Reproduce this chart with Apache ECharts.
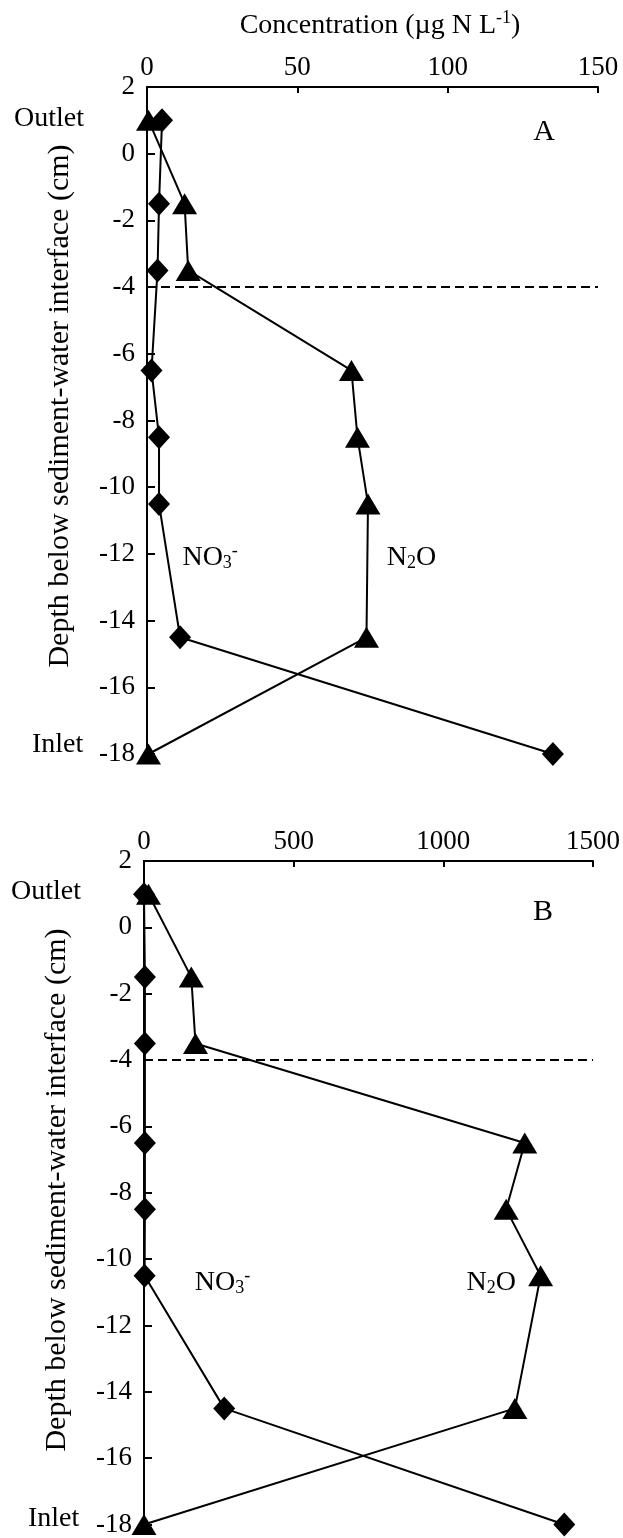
<!DOCTYPE html>
<html>
<head>
<meta charset="utf-8">
<script src="https://cdn.jsdelivr.net/npm/echarts@6/dist/echarts.min.js"></script>
<style>
  html, body { margin: 0; padding: 0; background: #fff; }
  #main { width: 623px; height: 1538px; }
</style>
</head>
<body>
<div id="main"></div>
<script>
// sampling depths (cm), outlet at top, inlet at the bottom
var depths = [1, -1.5, -3.5, -6.5, -8.5, -10.5, -14.5, -18];
// panel A concentrations (ug N/L)
var no3A = [5, 4, 3.5, 1.5, 4, 4, 11, 135];
var n2oA = [0.5, 12.5, 13.7, 68, 70, 73.5, 73, 0.5];
// panel B concentrations (ug N/L)
var no3B = [0, 3, 3, 3, 3, 2, 268, 1404];
var n2oB = [15, 158, 172, 1272, 1210, 1325, 1239, 0];
// axis ticks
var xTicksA = [0, 50, 100, 150];
var xTicksB = [0, 500, 1000, 1500];
var yTicks = [2, 0, -2, -4, -6, -8, -10, -12, -14, -16, -18];
var interfaceDepth = -4;

var serif = "'Liberation Serif', 'DejaVu Serif', serif";
var chart = echarts.init(document.getElementById('main'));

function pairs(xs) {
  return xs.map(function (v, i) { return [v, depths[i]]; });
}

function xAxisFor(ticks, idx) {
  return {
    type: 'value', gridIndex: idx, position: 'top',
    min: ticks[0], max: ticks[ticks.length - 1], interval: ticks[1] - ticks[0],
    axisLine: { show: true, onZero: false, lineStyle: { color: '#000', width: 2 } },
    axisTick: { show: true, inside: true, length: 6, lineStyle: { color: '#000', width: 2 } },
    axisLabel: { color: '#000', fontFamily: serif, fontSize: 27, margin: 6,
      formatter: function (v) { return String(v); } },
    splitLine: { show: false }
  };
}

function yAxisFor(idx) {
  return {
    type: 'value', gridIndex: idx,
    min: yTicks[yTicks.length - 1], max: yTicks[0], interval: 2,
    axisLine: { show: true, onZero: false, lineStyle: { color: '#000', width: 2 } },
    axisTick: { show: true, inside: true, length: 8, lineStyle: { color: '#000', width: 2 } },
    axisLabel: { color: '#000', fontFamily: serif, fontSize: 27, margin: 12,
      formatter: function (v) { return String(v); } },
    splitLine: { show: false }
  };
}

var labelRich = {
  base: { fontFamily: serif, fontSize: 28, color: '#000', lineHeight: 34, verticalAlign: 'middle' },
  sub: { fontFamily: serif, fontSize: 18, color: '#000', lineHeight: 34, verticalAlign: 'bottom', padding: [0, 0, 2, 0] },
  sup: { fontFamily: serif, fontSize: 18, color: '#000', lineHeight: 34, verticalAlign: 'top', padding: [2, 0, 0, 0] }
};

function textPoint(coord, fmt) {
  return {
    coord: coord, symbol: 'circle', symbolSize: 0,
    label: { show: true, position: 'inside', formatter: fmt, rich: labelRich }
  };
}

function lineSeries(name, data, xi, sym, size, extra) {
  var s = {
    name: name, type: 'line', xAxisIndex: xi, yAxisIndex: xi,
    data: pairs(data), symbol: sym, symbolSize: size,
    itemStyle: { color: '#000' },
    lineStyle: { color: '#000', width: 2 },
    animation: false, z: sym === 'triangle' ? 3 : 4
  };
  for (var k in extra) s[k] = extra[k];
  return s;
}

var dashed = {
  silent: true, symbol: ['none', 'none'], label: { show: false },
  lineStyle: { color: '#000', type: [9, 5], width: 2 },
  data: [{ yAxis: interfaceDepth }]
};

var option = {
  backgroundColor: '#fff',
  grid: [
    { left: 147, top: 87, width: 451, height: 667 },
    { left: 144, top: 861, width: 454, height: 665 }
  ],
  xAxis: [xAxisFor(xTicksA, 0), xAxisFor(xTicksB, 1)],
  yAxis: [yAxisFor(0), yAxisFor(1)],
  series: [
    lineSeries('N2O A', n2oA, 0, 'triangle', [25, 21], {
      markLine: dashed,
      markPoint: { data: [textPoint([88, -12.1], '{base|N}{sub|2}{base|O}')] }
    }),
    lineSeries('NO3 A', no3A, 0, 'diamond', [22, 24], {
      markPoint: { data: [textPoint([21, -12.1], '{base|NO}{sub|3}{sup|-}')] }
    }),
    lineSeries('N2O B', n2oB, 1, 'triangle', [25, 21], {
      markLine: dashed,
      markPoint: { data: [textPoint([1160, -10.7], '{base|N}{sub|2}{base|O}')] }
    }),
    lineSeries('NO3 B', no3B, 1, 'diamond', [22, 24], {
      markPoint: { data: [textPoint([262, -10.7], '{base|NO}{sub|3}{sup|-}')] }
    })
  ],
  graphic: [
    { type: 'text', x: 380, y: 26, style: {
        text: '{t|Concentration (µg N L}{s|-1}{t|)}', align: 'center', verticalAlign: 'middle',
        rich: {
          t: { fontFamily: serif, fontSize: 28, fill: '#000', lineHeight: 34, verticalAlign: 'middle' },
          s: { fontFamily: serif, fontSize: 18, fill: '#000', lineHeight: 34, verticalAlign: 'top' }
        } } },
    { type: 'text', x: 60, y: 406, rotation: Math.PI / 2, style: {
        text: 'Depth below sediment-water interface (cm)', fontFamily: serif, fontSize: 30,
        fill: '#000', align: 'center', verticalAlign: 'middle' } },
    { type: 'text', x: 57, y: 1190, rotation: Math.PI / 2, style: {
        text: 'Depth below sediment-water interface (cm)', fontFamily: serif, fontSize: 30,
        fill: '#000', align: 'center', verticalAlign: 'middle' } },
    { type: 'text', x: 544, y: 132, style: { text: 'A', fontFamily: serif, fontSize: 30, fill: '#000', align: 'center', verticalAlign: 'middle' } },
    { type: 'text', x: 543, y: 912, style: { text: 'B', fontFamily: serif, fontSize: 30, fill: '#000', align: 'center', verticalAlign: 'middle' } },
    { type: 'text', x: 14, y: 119, style: { text: 'Outlet', fontFamily: serif, fontSize: 28, fill: '#000', align: 'left', verticalAlign: 'middle' } },
    { type: 'text', x: 32, y: 745, style: { text: 'Inlet', fontFamily: serif, fontSize: 28, fill: '#000', align: 'left', verticalAlign: 'middle' } },
    { type: 'text', x: 11, y: 892, style: { text: 'Outlet', fontFamily: serif, fontSize: 28, fill: '#000', align: 'left', verticalAlign: 'middle' } },
    { type: 'text', x: 28, y: 1519, style: { text: 'Inlet', fontFamily: serif, fontSize: 28, fill: '#000', align: 'left', verticalAlign: 'middle' } }
  ]
};

chart.setOption(option);
</script>
</body>
</html>
